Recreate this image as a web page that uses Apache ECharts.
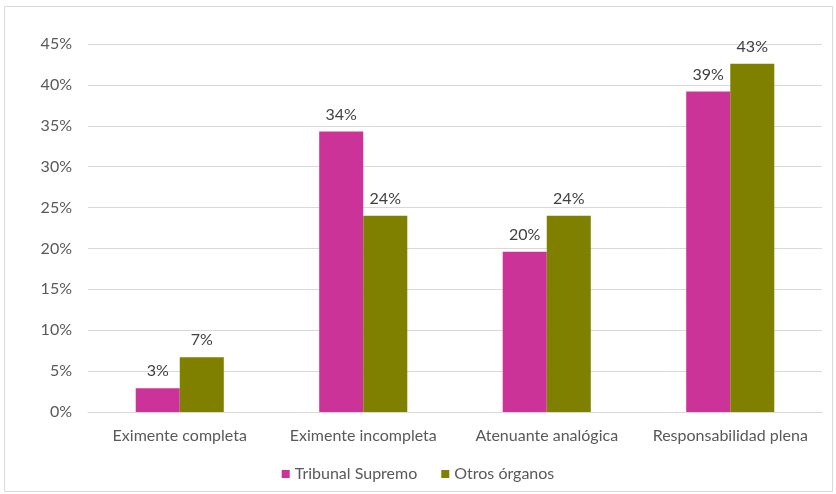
<!DOCTYPE html>
<html><head><meta charset="utf-8">
<script src="https://cdn.jsdelivr.net/npm/echarts@6/dist/echarts.min.js"></script>
<style>html,body{margin:0;padding:0;background:#fff}#c{width:836px;height:494px}</style>
</head><body><div id="c"></div>
<script>
const categories = ['Eximente completa', 'Eximente incompleta', 'Atenuante analógica', 'Responsabilidad plena'];
const tribunalSupremo = [2.9, 34.3, 19.6, 39.2];
const otrosOrganos = [6.7, 24.0, 24.0, 42.6];
const seriesNames = ['Tribunal Supremo', 'Otros órganos'];
const FONT = 'Lato, "Open Sans", sans-serif';
const chart = echarts.init(document.getElementById('c'), null, {renderer: 'canvas'});
const labelCfg = {show: true, position: 'top', distance: 9, color: '#404040', fontSize: 16, fontFamily: FONT,
  formatter: p => Math.round(p.value) + '%'};
chart.setOption({
  animation: false,
  backgroundColor: '#fff',
  graphic: [{type: 'rect', shape: {x: 4.5, y: 6.5, width: 828, height: 485}, style: {fill: 'none', stroke: '#d9d9d9', lineWidth: 1}, silent: true}],
  grid: {left: 88, right: 14, top: 44, bottom: 82, containLabel: false},
  legend: {
    bottom: 7, left: 'center', itemWidth: 8, itemHeight: 8, itemGap: 24,
    icon: 'rect',
    textStyle: {color: '#595959', fontSize: 16, fontFamily: FONT},
    data: seriesNames
  },
  xAxis: {
    type: 'category', data: categories,
    axisLine: {lineStyle: {color: '#d9d9d9'}},
    axisTick: {show: false},
    axisLabel: {color: '#595959', fontSize: 16, fontFamily: FONT, margin: 16, interval: 0, hideOverlap: false}
  },
  yAxis: {
    type: 'value', min: 0, max: 45, interval: 5,
    axisLine: {show: false}, axisTick: {show: false},
    splitLine: {lineStyle: {color: '#d9d9d9'}},
    axisLabel: {color: '#595959', fontSize: 16, fontFamily: FONT, margin: 16, formatter: '{value}%'}
  },
  series: [
    {name: seriesNames[0], type: 'bar', data: tribunalSupremo, barGap: '0%', barCategoryGap: '52%',
     itemStyle: {color: '#cc3399'}, label: labelCfg},
    {name: seriesNames[1], type: 'bar', data: otrosOrganos,
     itemStyle: {color: '#808000'}, label: labelCfg}
  ]
});
</script></body></html>
